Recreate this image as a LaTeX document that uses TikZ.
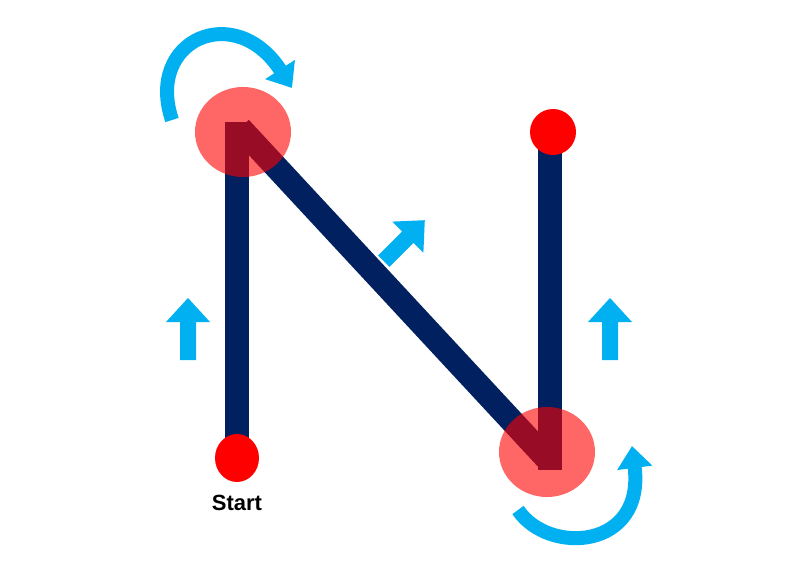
\documentclass[tikz,border=0pt]{standalone}
\usepackage{fontspec}
\setmainfont{Liberation Sans}
\usetikzlibrary{arrows.meta}
\definecolor{navy}{HTML}{002060}
\definecolor{sky}{HTML}{00B0F0}
\definecolor{skyd}{HTML}{0090C8}
\begin{document}
\begin{tikzpicture}[x=1pt,y=-1pt,
  stroke/.style={navy,line width=24pt},
  dot/.style={fill=red,draw=none},
  halo/.style={fill=red,fill opacity=0.6,draw=none},
  blk/.style={fill=sky,draw=none},
  curv/.style={sky,line width=14pt,-{Triangle[width=34pt,length=22pt]}}]
\useasboundingbox (0,0) rectangle (800,580);
\coordinate (a) at (237,460);
\coordinate (b) at (237,122);
\coordinate (b2) at (240,128);
\coordinate (c) at (550,462);
\coordinate (c2) at (550,470);
\coordinate (d) at (550,135);
\draw[stroke] (a) -- (b);
\draw[stroke] (b2) -- (c);
\draw[stroke] (c2) -- (d);
\fill[dot] (237,458) ellipse [x radius=22,y radius=24];
\fill[dot] (553,132) ellipse [x radius=23,y radius=23];
\fill[halo] (243,132) ellipse [x radius=48,y radius=45];
\fill[halo] (547,452) ellipse [x radius=48,y radius=45];
% up arrows
\fill[blk] (180,360) -- (196,360) -- (196,322) -- (210,322) -- (188,298) -- (166,322) -- (180,322) -- cycle;
\fill[blk] (602,360) -- (618,360) -- (618,322) -- (632,322) -- (610,298) -- (588,322) -- (602,322) -- cycle;
% diagonal arrow
\begin{scope}[shift={(405,240)},rotate=45]
\fill[blk] (-30,-8) -- (4,-8) -- (4,-22) -- (28,0) -- (4,22) -- (4,8) -- (-30,8) -- cycle;
\end{scope}
% curved arrows
\coordinate (t0) at (172,120);
\coordinate (t1) at (292,88);
\draw[curv] (t0) .. controls (145,40) and (235,0) .. (t1);
\coordinate (u0) at (518,510);
\coordinate (u1) at (632,446);
\draw[curv] (u0) .. controls (548,555) and (645,550) .. (u1);
\node[font=\bfseries\fontsize{22}{26}\selectfont] (s) at (237,503) {Start};
\end{tikzpicture}
\end{document}
